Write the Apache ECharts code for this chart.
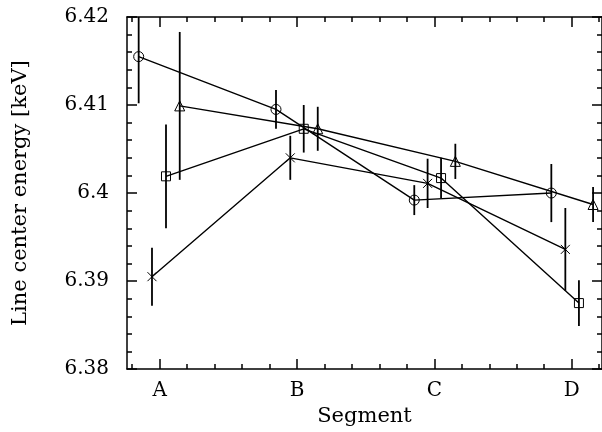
<!DOCTYPE html>
<html>
<head>
<meta charset="utf-8">
<script src="https://cdn.jsdelivr.net/npm/echarts@6/dist/echarts.min.js"></script>
<style>
  html, body { margin: 0; padding: 0; background: #fff; }
  #main { width: 602px; height: 432px; }
</style>
</head>
<body>
<div id="main"></div>
<script>
// segment labels sit at x = 1..4
var categories = ['A', 'B', 'C', 'D'];
var catPos = [1, 2, 3, 4];
var minorPos = [0.8, 1.2, 1.4, 1.6, 1.8, 2.2, 2.4, 2.6, 2.8, 3.2, 3.4, 3.6, 3.8, 4.2];

// circles
var circX = [0.847, 1.847, 2.854, 3.852];
var circY = [6.4155, 6.4095, 6.3992, 6.4000];
var circE = [0.0053, 0.0022, 0.0017, 0.0033];
// triangles
var triX = [1.146, 2.151, 3.153, 4.156];
var triY = [6.4099, 6.4073, 6.4036, 6.3987];
var triE = [0.0084, 0.0025, 0.0020, 0.0020];
// squares
var sqX = [1.046, 2.049, 3.049, 4.053];
var sqY = [6.4019, 6.4073, 6.4017, 6.3875];
var sqE = [0.0059, 0.0027, 0.0023, 0.0026];
// crosses
var crX = [0.944, 1.951, 2.951, 3.954];
var crY = [6.3905, 6.4040, 6.4011, 6.3936];
var crE = [0.0033, 0.0025, 0.0028, 0.0047];

var X_MIN = 0.762, X_MAX = 4.221;
var Y_MIN = 6.38, Y_MAX = 6.42;
var font = 'DejaVu Serif';

function pts(xs, ys) {
    return xs.map(function (x, i) { return [x, ys[i]]; });
}
function bars(xs, ys, es) {
    return xs.map(function (x, i) { return [x, ys[i] - es[i], ys[i] + es[i]]; });
}

var errData = [].concat(
    bars(circX, circY, circE),
    bars(triX, triY, triE),
    bars(sqX, sqY, sqE),
    bars(crX, crY, crE)
);

function xAx(pos, ticks, len, showLine, labels) {
    return {
        type: 'value', position: pos, min: X_MIN, max: X_MAX,
        axisLine: { show: showLine, onZero: false, lineStyle: { color: '#000', width: 1.5 } },
        axisTick: { show: true, inside: true, length: len, customValues: ticks,
                    lineStyle: { color: '#000', width: 1.5 } },
        axisLabel: labels ? {
            show: true, customValues: catPos, margin: 12, color: '#000',
            fontFamily: font, fontSize: 20,
            formatter: function (v) { return categories[catPos.indexOf(Math.round(v))]; }
        } : { show: false },
        splitLine: { show: false }
    };
}
function yAx(pos, labels) {
    return {
        type: 'value', position: pos, min: Y_MIN, max: Y_MAX, interval: 0.01,
        axisLine: { show: true, onZero: false, lineStyle: { color: '#000', width: 1.5 } },
        axisTick: { show: true, inside: true, length: 10, lineStyle: { color: '#000', width: 1.5 } },
        minorTick: { show: true, splitNumber: 5, length: 5, lineStyle: { color: '#000', width: 1.5 } },
        axisLabel: labels ? {
            show: true, margin: 18, color: '#000', fontFamily: font, fontSize: 20,
            formatter: function (v) { return String(+v.toFixed(3)); }
        } : { show: false },
        splitLine: { show: false },
        minorSplitLine: { show: false }
    };
}

var xBottom = xAx('bottom', catPos, 10, true, true);
xBottom.name = 'Segment';
xBottom.nameLocation = 'middle';
xBottom.nameGap = 34;
xBottom.nameTextStyle = { color: '#000', fontFamily: font, fontSize: 21 };

var yLeft = yAx('left', true);
yLeft.name = 'Line center energy [keV]';
yLeft.nameLocation = 'middle';
yLeft.nameGap = 96;
yLeft.nameTextStyle = { color: '#000', fontFamily: font, fontSize: 21 };

function lineSeries(data, symbol, size) {
    return {
        type: 'line', xAxisIndex: 0, yAxisIndex: 0, data: data,
        symbol: symbol, symbolSize: size, showSymbol: true,
        lineStyle: { color: '#000', width: 1.4 },
        itemStyle: { color: 'rgba(0,0,0,0)', borderColor: '#000', borderWidth: 1 },
        z: 3
    };
}

var myChart = echarts.init(document.getElementById('main'));
var option = {
    animation: false,
    backgroundColor: '#fff',
    grid: { left: 127, right: 0, top: 17, bottom: 61, containLabel: false },
    xAxis: [
        xBottom,
        xAx('bottom', minorPos, 5, false, false),
        xAx('top', catPos, 10, true, false),
        xAx('top', minorPos, 5, false, false)
    ],
    yAxis: [yLeft, yAx('right', false)],
    series: [
        {
            type: 'custom', xAxisIndex: 0, yAxisIndex: 0, data: errData, z: 2,
            renderItem: function (params, api) {
                var x = api.value(0);
                var lo = Math.max(api.value(1), Y_MIN);
                var hi = Math.min(api.value(2), Y_MAX);
                var p1 = api.coord([x, lo]);
                var p2 = api.coord([x, hi]);
                return {
                    type: 'line',
                    shape: { x1: p1[0], y1: p1[1], x2: p2[0], y2: p2[1] },
                    style: { stroke: '#000', lineWidth: 1.8 }
                };
            }
        },
        lineSeries(pts(circX, circY), 'circle', 10),
        lineSeries(pts(triX, triY), 'triangle', 10),
        lineSeries(pts(sqX, sqY), 'rect', 9),
        lineSeries(pts(crX, crY), 'path://M0,0L10,10M10,0L0,10', 9)
    ]
};
myChart.setOption(option);
</script>
</body>
</html>
